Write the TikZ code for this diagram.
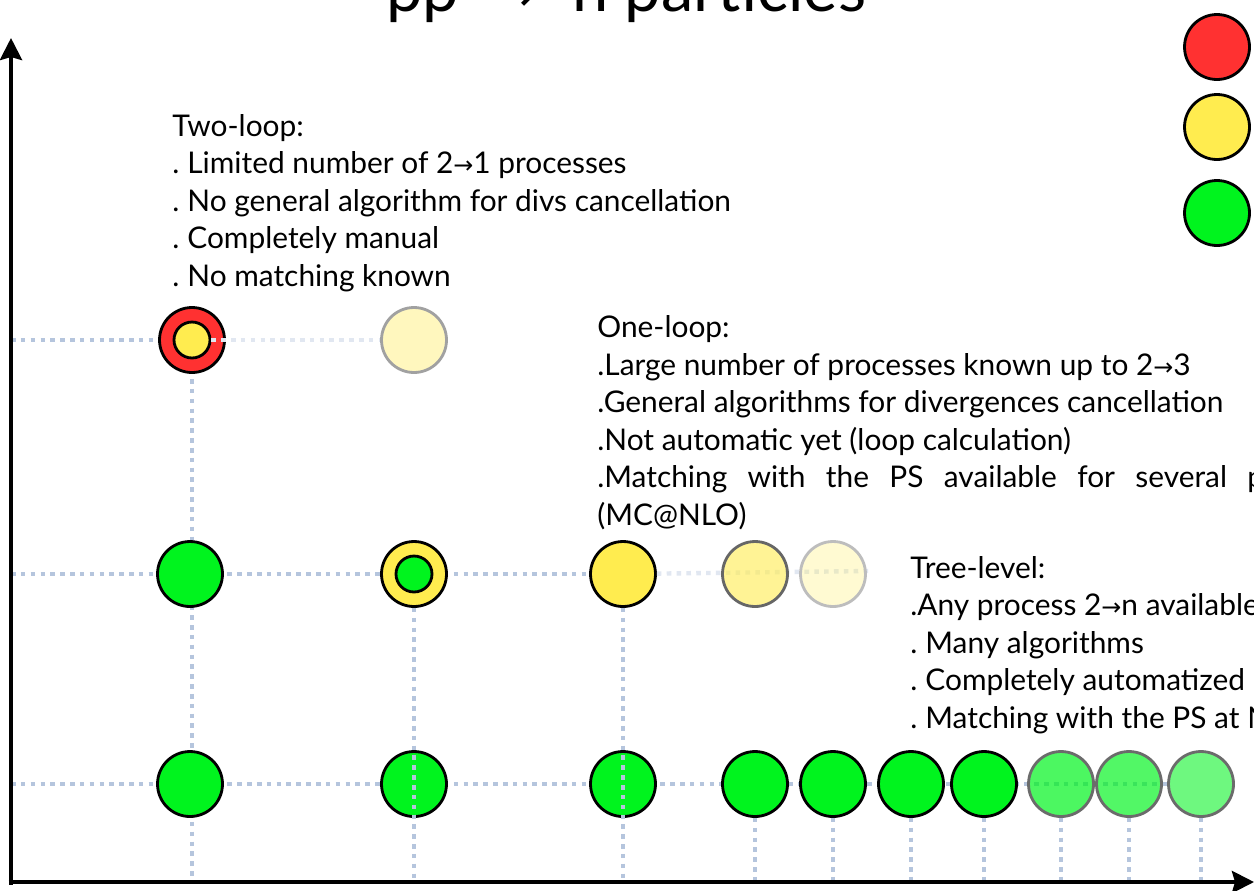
\documentclass[tikz,border=0pt]{standalone}
\usepackage{fontspec}
\setmainfont{Lato}
\newfontfamily\arrowfont[Scale=0.8]{DejaVu Sans}
\usetikzlibrary{arrows.meta}
\definecolor{loopred}{HTML}{FF3131}
\definecolor{loopyel}{HTML}{FFEC4F}
\definecolor{loopgreen}{HTML}{00F41E}
\definecolor{guideblue}{HTML}{B5C5DD}
\definecolor{guidepale}{HTML}{E1E7F1}
\newcommand{\arr}{{\arrowfont →}}
\newcommand{\itm}{.\kern0.16cm}
\pgfdeclarelayer{back}
\pgfdeclarelayer{front}
\pgfsetlayers{back,main,front}
\tikzset{
  ball/.style={circle, draw=black, line width=1.6pt, minimum size=1.3cm, inner sep=0pt},
  core/.style={ball, minimum size=0.72cm},
  ghost/.style={ball, draw=#1},
  guide/.style={draw=guideblue, line width=2.5pt, dash pattern=on 2.6pt off 3pt},
  paleguide/.style={guide, draw=guidepale},
  arrowaxis/.style={line width=2.4pt, -{Stealth[length=0.44cm,width=0.44cm,inset=0.06cm]}},
  blurb/.style={anchor=base west, align=left, inner sep=0pt, font=\fontsize{17}{21.3}\selectfont}
}

\begin{document}
\begin{tikzpicture}[x=0.02cm,y=-0.02cm]
\useasboundingbox (0,0) rectangle (1254,890);
\clip (0,0) rectangle (1254,890);
\begin{pgfonlayer}{back}
\fill[white] (0,0) rectangle (1254,890);
\end{pgfonlayer}
\coordinate (org) at (11,882);
\coordinate (ytop) at (11,38);
\coordinate (xend) at (1254,882);

% two-loop
\node[ball, fill=loopred] (w1) at (192,340) {};
\draw[guide] (org |- w1) -- (w1);
\node[core, fill=loopyel] (w1in) at (w1) {};
\begin{pgfonlayer}{front}
\node[ghost=black!37, fill=loopyel, fill opacity=0.37] (w2) at (414,340) {};
\end{pgfonlayer}
\draw[paleguide] (w1in.east) -- (w2);

% one-loop
\node[ball, fill=loopgreen] (o1) at (190,574) {};
\node[ball, fill=loopyel] (o2) at (414,574) {};
\node[core, fill=loopgreen] (o2in) at (o2) {};
\node[ball, fill=loopyel] (o3) at (623,574) {};
\begin{pgfonlayer}{front}
\node[ghost=black!60, fill=loopyel, fill opacity=0.6] (o4) at (755,574) {};
\node[ghost=black!26, fill=loopyel, fill opacity=0.25] (o5) at (833,574) {};
\end{pgfonlayer}
\coordinate (o6) at (870,571);
\draw[paleguide] (o3) -- (o6);

% tree-level
\foreach \x [count=\i] in {190,414,623,755,833,911,984}
  \node[ball, fill=loopgreen] (t\i) at (\x,784) {};
\begin{pgfonlayer}{front}
\foreach \x/\f [count=\i from 8] in {1061/0.7,1129/0.68,1201/0.57}
  \node[ghost=black!58, fill=loopgreen, fill opacity=\f] (t\i) at (\x,784) {};
\end{pgfonlayer}

% guide lines
\begin{pgfonlayer}{back}
\draw[guide] (w1in) -- (w1 |- org);
\draw[guide] (org |- o1) -- (o3);
\draw[guide] (org |- t1) -- (t10);
\foreach \i in {4,...,10}
  \draw[guide] (t\i) -- (t\i |- org);
\end{pgfonlayer}
\draw[guide] (o2.south) -- (o2 |- org);
\draw[guide] (o3.south) -- (o3 |- org);

% axes
\draw[arrowaxis] ([yshift=-0.05cm]org) -- (ytop);
\draw[arrowaxis] ([xshift=-0.05cm]org) -- (xend);

% legend
\node[ball, fill=loopred] (lgred) at (1217,47) {};
\node[ball, fill=loopyel] (lgyel) at (1217,127) {};
\node[ball, fill=loopgreen] (lggreen) at (1217,213) {};

% texts (anchored at the baseline of the last line)
\node[anchor=base west, inner sep=0pt, font=\fontsize{37}{42}\selectfont] (title) at (386,11) {pp\hspace{0.36cm} \arr\ \hspace{0.36cm}n particles};
\node[blurb] (twoloop) at (172,286) {Two-loop:\\\itm Limited number of 2\arr 1 processes\\\itm No general algorithm for divs cancellation\\\itm Completely manual\\\itm No matching known};
\node[blurb] (oneloop) at (597,525) {One-loop:\\.Large number of processes known up to 2\arr 3\\.General algorithms for divergences cancellation\\.Not automatic yet (loop calculation)\\\makebox[13cm][s]{.Matching with the PS available for several\ }processes\\(MC@NLO)};
\node[blurb] (treelevel) at (910,728) {Tree-level:\\.Any process 2\arr n available\\\itm Many algorithms\\\itm Completely automatized\\\itm Matching with the PS at NLO};
\end{tikzpicture}
\end{document}
